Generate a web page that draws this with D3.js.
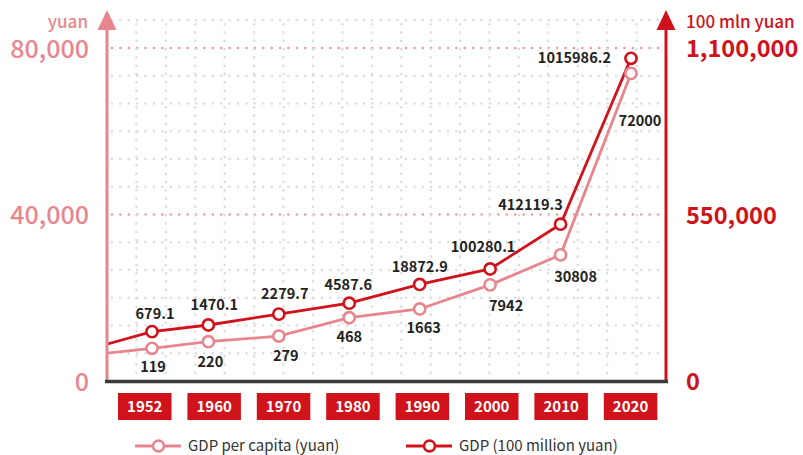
<!DOCTYPE html>
<html><head><meta charset="utf-8">
<script src="https://cdn.jsdelivr.net/npm/d3@7"></script>
<style>
html,body{margin:0;padding:0;background:#fff;}
svg{display:block;font-family:"Noto Sans CJK SC","Noto Sans",sans-serif;}
</style></head>
<body><svg id="chart" width="803" height="455"></svg>
<script>
// ---------------- DATA ----------------
const years = [1952, 1960, 1970, 1980, 1990, 2000, 2010, 2020];
// printed labels
const gdpPerCapitaLabels = ["119", "220", "279", "468", "1663", "7942", "30808", "72000"];
const gdpLabels = ["679.1", "1470.1", "2279.7", "4587.6", "18872.9", "100280.1", "412119.3", "1015986.2"];
// plotted heights as drawn in the picture (axis units; the original is not to scale)
const perCapitaPlotted = [7850, 9440, 10800, 15200, 17300, 23100, 30300, 73900];   // left axis, yuan
const gdpPlotted = [163000, 185000, 221000, 257000, 319000, 370000, 518000, 1066000]; // right axis, 100 mln yuan
// the lines enter from the left edge (lead-in before 1952)
const leadYear = 1945;
const perCapitaLead = 6600;
const gdpLead = 118000;
// axis ticks
const leftTicks = [0, 40000, 80000];
const rightTicks = [0, 550000, 1100000];
const leftUnit = "yuan";
const rightUnit = "100 mln yuan";
const seriesNames = ["GDP per capita (yuan)", "GDP (100 million yuan)"];

// ---------------- LAYOUT ----------------
const W = 803, H = 455;
const axL = 107, axR = 666, baseY = 381, topY = 48;
const pink = "#e8868f", red = "#d0121b", dark = "#222";
const svg = d3.select("#chart");

const x = d3.scaleLinear().domain([1952, 2020]).range([152, 631]);
const yL = d3.scaleLinear().domain([0, 80000]).range([baseY, topY]);
const yR = d3.scaleLinear().domain([0, 1100000]).range([baseY, topY]);
const band = d3.scaleBand().domain(years).range([118, 657.3]).paddingInner(0.229).paddingOuter(0);

// grid
const gridG = svg.append("g");
const rowVals = d3.range(1, 14).map(j => j * 80000 / 12);
const refVals = leftTicks.filter(v => v > 0);
rowVals.forEach(v => {
  const isRef = refVals.some(r => Math.abs(r - v) < 1);
  gridG.append("line")
    .attr("x1", axL + 5).attr("x2", axR - 3)
    .attr("y1", yL(v)).attr("y2", yL(v))
    .attr("stroke", isRef ? "#e99aa4" : "#dcdce6")
    .attr("stroke-width", 2.6)
    .attr("stroke-linecap", "round")
    .attr("stroke-dasharray", "0,8.4");
});
const colStep = (axR - axL) / 19;
d3.range(1, 19).forEach(k => {
  gridG.append("line")
    .attr("x1", axL + k * colStep).attr("x2", axL + k * colStep)
    .attr("y1", yL(rowVals[rowVals.length - 1]) + 4).attr("y2", baseY - 4)
    .attr("stroke", "#dcdce6")
    .attr("stroke-width", 2.6)
    .attr("stroke-linecap", "round")
    .attr("stroke-dasharray", "0,8.3");
});

// clip for lines
svg.append("clipPath").attr("id", "plotClip")
  .append("rect").attr("x", axL).attr("y", 0).attr("width", axR - axL).attr("height", baseY);

// series
const pinkPts = [{year: leadYear, v: perCapitaLead, lead: true}].concat(years.map((yr, i) => ({year: yr, v: perCapitaPlotted[i], label: gdpPerCapitaLabels[i], i})));
const redPts = [{year: leadYear, v: gdpLead, lead: true}].concat(years.map((yr, i) => ({year: yr, v: gdpPlotted[i], label: gdpLabels[i], i})));

const lineL = d3.line().x(d => x(d.year)).y(d => yL(d.v));
const lineR = d3.line().x(d => x(d.year)).y(d => yR(d.v));

svg.append("path").datum(pinkPts).attr("d", lineL)
  .attr("fill", "none").attr("stroke", pink).attr("stroke-width", 2.8)
  .attr("clip-path", "url(#plotClip)");
svg.append("path").datum(redPts).attr("d", lineR)
  .attr("fill", "none").attr("stroke", red).attr("stroke-width", 2.8)
  .attr("clip-path", "url(#plotClip)");

svg.selectAll(".cp").data(pinkPts.filter(d => !d.lead)).enter().append("circle")
  .attr("cx", d => x(d.year)).attr("cy", d => yL(d.v)).attr("r", 5.6)
  .attr("fill", "#fff").attr("stroke", pink).attr("stroke-width", 2.6);
svg.selectAll(".cr").data(redPts.filter(d => !d.lead)).enter().append("circle")
  .attr("cx", d => x(d.year)).attr("cy", d => yR(d.v)).attr("r", 5.6)
  .attr("fill", "#fff").attr("stroke", red).attr("stroke-width", 2.6);

// label placement (dx, dy, anchor)
const redLabelPlace = [[3,-13,"middle"],[6,-15,"middle"],[6,-15,"middle"],[-1,-13,"middle"],[0,-12,"middle"],[-7,-17,"middle"],[-30,-14,"middle"],[-20,5,"end"]];
const pinkLabelPlace = [[1,24,"middle"],[2,25,"middle"],[7,25,"middle"],[0,24,"middle"],[4,24,"middle"],[16,26,"middle"],[15,27,"middle"],[9,53,"middle"]];

const labelFont = {size: "14.5px", weight: 700};
svg.selectAll(".lr").data(redPts.filter(d => !d.lead)).enter().append("text")
  .attr("x", d => x(d.year) + redLabelPlace[d.i][0])
  .attr("y", d => yR(d.v) + redLabelPlace[d.i][1])
  .attr("text-anchor", d => redLabelPlace[d.i][2])
  .attr("font-size", labelFont.size).attr("font-weight", labelFont.weight)
  .attr("fill", dark).text(d => d.label);
svg.selectAll(".lp").data(pinkPts.filter(d => !d.lead)).enter().append("text")
  .attr("x", d => x(d.year) + pinkLabelPlace[d.i][0])
  .attr("y", d => yL(d.v) + pinkLabelPlace[d.i][1])
  .attr("text-anchor", d => pinkLabelPlace[d.i][2])
  .attr("font-size", labelFont.size).attr("font-weight", labelFont.weight)
  .attr("fill", dark).text(d => d.label);

// axes lines + arrows
svg.append("line").attr("x1", axL).attr("x2", axL).attr("y1", baseY).attr("y2", 26)
  .attr("stroke", pink).attr("stroke-width", 3);
svg.append("path").attr("d", `M${axL},10 L${axL + 9.5},30 L${axL - 9.5},30 Z`).attr("fill", pink);
svg.append("line").attr("x1", axR).attr("x2", axR).attr("y1", baseY).attr("y2", 26)
  .attr("stroke", red).attr("stroke-width", 3);
svg.append("path").attr("d", `M${axR},10 L${axR + 9.5},30 L${axR - 9.5},30 Z`).attr("fill", red);
svg.append("line").attr("x1", axL - 2).attr("x2", axR + 2).attr("y1", baseY + 0.5).attr("y2", baseY + 0.5)
  .attr("stroke", "#3b3b3b").attr("stroke-width", 3.5);

// tick labels
const fmt = d3.format(",");
svg.selectAll(".tl").data(leftTicks).enter().append("text")
  .attr("x", 89).attr("y", d => yL(d) + 1).attr("dy", "0.35em")
  .attr("text-anchor", "end").attr("font-size", "25px").attr("font-weight", 500)
  .attr("fill", pink).text(d => fmt(d));
svg.selectAll(".tr").data(rightTicks).enter().append("text")
  .attr("x", 686).attr("y", d => yR(d) + 1).attr("dy", "0.35em")
  .attr("text-anchor", "start").attr("font-size", "23.5px").attr("font-weight", 700)
  .attr("fill", red).text(d => fmt(d));
svg.append("text").attr("x", 88).attr("y", 27.5).attr("text-anchor", "end")
  .attr("font-size", "17px").attr("font-weight", 500).attr("fill", pink).text(leftUnit);
svg.append("text").attr("x", 686).attr("y", 28).attr("text-anchor", "start")
  .attr("font-size", "17px").attr("font-weight", 500).attr("fill", red).text(rightUnit);

// year boxes
const yb = svg.selectAll(".yb").data(years).enter().append("g");
yb.append("rect").attr("x", d => band(d)).attr("y", 393).attr("width", band.bandwidth()).attr("height", 27)
  .attr("fill", red);
yb.append("text").attr("x", d => band(d) + band.bandwidth() / 2).attr("y", 406.5).attr("dy", "0.35em")
  .attr("text-anchor", "middle").attr("font-size", "15px").attr("font-weight", 700)
  .attr("fill", "#fff").text(d => d);

// legend
const legend = [
  {name: seriesNames[0], color: pink, x0: 135},
  {name: seriesNames[1], color: red, x0: 406}
];
legend.forEach(l => {
  svg.append("line").attr("x1", l.x0).attr("x2", l.x0 + 46).attr("y1", 446).attr("y2", 446)
    .attr("stroke", l.color).attr("stroke-width", 2.8);
  svg.append("circle").attr("cx", l.x0 + 23.5).attr("cy", 446).attr("r", 5.4)
    .attr("fill", "#fff").attr("stroke", l.color).attr("stroke-width", 2.6);
  svg.append("text").attr("x", l.x0 + 53).attr("y", 445.5).attr("dy", "0.35em")
    .attr("font-size", "15px").attr("fill", "#333").text(l.name);
});
</script></body></html>
